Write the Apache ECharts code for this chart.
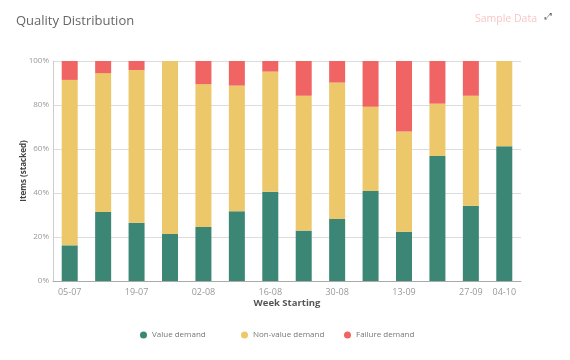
<!DOCTYPE html>
<html>
<head>
<meta charset="utf-8">
<script src="https://cdn.jsdelivr.net/npm/echarts@6/dist/echarts.min.js"></script>
<style>html,body{margin:0;padding:0;background:#fff}#c{width:570px;height:360px}</style>
</head>
<body>
<div id="c"></div>
<script>
var categories = ['05-07','12-07','19-07','26-07','02-08','09-08','16-08','23-08','30-08','06-09','13-09','20-09','27-09','04-10'];
var valueDemand = [16.2, 31.4, 26.5, 21.4, 24.5, 31.7, 40.6, 22.9, 28.2, 40.9, 22.4, 56.8, 34.2, 61.2];
var nonValueDemand = [75.2, 63.1, 69.4, 78.6, 65.0, 57.1, 54.6, 61.3, 62.0, 38.3, 45.6, 23.8, 50.0, 38.8];
var failureDemand = [8.6, 5.5, 4.1, 0, 10.5, 11.2, 4.8, 15.8, 9.8, 20.8, 32.0, 19.4, 15.8, 0];
var seriesNames = ['Value demand', 'Non-value demand', 'Failure demand'];
var yTicks = [0, 20, 40, 60, 80, 100];

var FONT = 'Open Sans';
var legendLefts = [135, 236, 339];
var legends = seriesNames.map(function (n, i) {
  return {
    bottom: 16,
    left: legendLefts[i],
    icon: 'circle',
    itemWidth: 7, itemHeight: 7,
    textStyle: {fontFamily: FONT, fontSize: 8, color: '#777'},
    data: [n]
  };
});
var chart = echarts.init(document.getElementById('c'), null, {renderer: 'canvas'});
chart.setOption({
  animation: false,
  textStyle: {fontFamily: FONT},
  title: {
    text: 'Quality Distribution',
    left: 11, top: 10,
    textStyle: {fontFamily: FONT, fontSize: 13, fontWeight: 'normal', color: '#666'}
  },
  graphic: [
    {type: 'text', right: 33, top: 14, style: {text: 'Sample Data', fontFamily: FONT, fontSize: 10.5, fill: '#f9c6c6'}},
    {type: 'text', right: 18, top: 12, style: {text: '\u2922', fontFamily: 'DejaVu Sans', fontSize: 9, fill: '#555'}}
  ],
  legend: legends,
  grid: {left: 53, right: 49, top: 61, bottom: 79, containLabel: false},
  xAxis: {
    type: 'category',
    data: categories,
    name: 'Week Starting',
    nameLocation: 'middle',
    nameGap: 17,
    nameMoveOverlap: false,
    nameTextStyle: {fontFamily: FONT, fontSize: 9.5, fontWeight: 'bold', color: '#555'},
    axisLine: {lineStyle: {color: '#aaa'}},
    axisTick: {show: false},
    axisLabel: {
      interval: function (idx) { return idx % 2 === 0 || idx === categories.length - 1; },
      fontSize: 9, color: '#999', margin: 7, fontFamily: FONT
    }
  },
  yAxis: {
    type: 'value',
    min: yTicks[0], max: yTicks[yTicks.length - 1], interval: 20,
    name: 'Items (stacked)',
    nameLocation: 'middle',
    nameGap: 25,
    nameMoveOverlap: false,
    nameTextStyle: {fontFamily: FONT, fontSize: 8, fontWeight: 'bold', color: '#444'},
    axisLine: {show: true, lineStyle: {color: '#ccc'}},
    axisTick: {show: false},
    splitLine: {lineStyle: {color: '#ddd'}},
    axisLabel: {formatter: '{value}%', fontSize: 8, color: '#999', margin: 4, fontFamily: FONT}
  },
  series: [
    {name: seriesNames[0], type: 'bar', stack: 's', data: valueDemand, barWidth: 16, itemStyle: {color: '#3b8675'}},
    {name: seriesNames[1], type: 'bar', stack: 's', data: nonValueDemand, barWidth: 16, itemStyle: {color: '#ecc86b'}},
    {name: seriesNames[2], type: 'bar', stack: 's', data: failureDemand, barWidth: 16, itemStyle: {color: '#f06464'}}
  ]
});
</script>
</body>
</html>
